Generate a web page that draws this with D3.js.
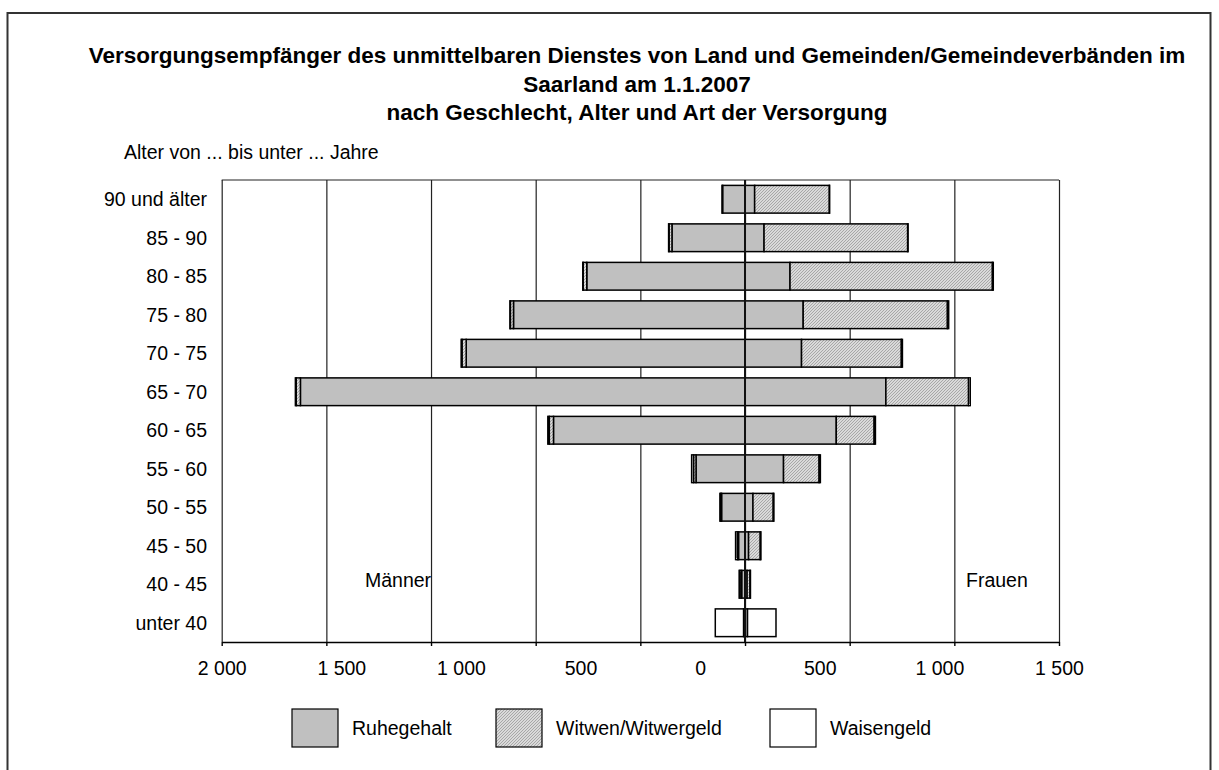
<!DOCTYPE html>
<html>
<head>
<meta charset="utf-8">
<script src="https://cdn.jsdelivr.net/npm/d3@7"></script>
<style>
  body { margin: 0; background: #fff; }
  svg { display: block; font-family: 'Liberation Sans', Arial, sans-serif; }
</style>
</head>
<body>
<svg id="chart" width="1219" height="770"></svg>
<script>
// Altersgruppen, von oben nach unten
const ageGroups = ['90 und älter', '85 - 90', '80 - 85', '75 - 80', '70 - 75', '65 - 70',
    '60 - 65', '55 - 60', '50 - 55', '45 - 50', '40 - 45', 'unter 40']

// Männer
const menRuhegehalt = [107, 349, 756, 1106, 1332, 2124, 915, 234, 112, 31, 16, 7]
const menWitwergeld = [3, 14, 17, 15, 20, 20, 20, 12, 4, 6, 8, 0]
const menWaisengeld = [0, 2, 2, 2, 4, 4, 7, 9, 4, 8, 4, 135]

// Frauen
const womenRuhegehalt = [46, 91, 215, 278, 270, 673, 436, 184, 38, 17, 10, 12]
const womenWitwengeld = [357, 686, 967, 689, 477, 395, 181, 170, 97, 56, 14, 0]
const womenWaisengeld = [1, 2, 4, 6, 5, 8, 6, 6, 3, 3, 2, 136]

const seriesNames = ['Ruhegehalt', 'Witwen/Witwergeld', 'Waisengeld']
const gridValues = [-2500, -2000, -1500, -1000, -500, 0, 500, 1000, 1500]
const tickLabelValues = [-2000, -1500, -1000, -500, 0, 500, 1000, 1500]

const titleLines = [
    'Versorgungsempfänger des unmittelbaren Dienstes von Land und Gemeinden/Gemeindeverbänden im',
    'Saarland am 1.1.2007',
    'nach Geschlecht, Alter und Art der Versorgung'
]

const svg = d3.select('#chart')
const plot = { left: 221.7, right: 1059, top: 180, bottom: 642 }
const fontSize = 19.5

// Schraffur
const defs = svg.append('defs')
const pat = defs.append('pattern')
    .attr('id', 'hatch')
    .attr('patternUnits', 'userSpaceOnUse')
    .attr('width', 3).attr('height', 3)
pat.append('rect').attr('width', 3).attr('height', 3).attr('fill', '#dadada')
pat.append('path')
    .attr('d', 'M-1,1 L1,-1 M0,3 L3,0 M2,4 L4,2')
    .attr('stroke', '#9a9a9a').attr('stroke-width', 0.8)

const fills = ['#c0c0c0', 'url(#hatch)', '#ffffff']

// Rahmen
svg.append('rect')
    .attr('x', 7.5).attr('y', 13)
    .attr('width', 1203).attr('height', 800)
    .attr('fill', 'none').attr('stroke', '#333').attr('stroke-width', 2)

// Titel
svg.append('g')
    .selectAll('text')
    .data(titleLines)
    .enter()
    .append('text')
    .attr('x', 637)
    .attr('y', (d, i) => 63 + i * 28.5)
    .attr('text-anchor', 'middle')
    .attr('font-weight', 'bold')
    .attr('font-size', 22.5)
    .text(d => d)

svg.append('text')
    .attr('x', 124).attr('y', 159)
    .attr('font-size', fontSize)
    .text('Alter von ... bis unter ... Jahre')

const x = d3.scaleLinear().domain([-2500, 1500]).range([plot.left, plot.right])
const xLabel = d3.scaleLinear().domain([-2000, 1500]).range([plot.left, plot.right])
const y = d3.scaleBand().domain(ageGroups).range([plot.top, plot.bottom])
    .paddingInner(0.28).paddingOuter(0.14)

// Gitternetz
const grid = svg.append('g')
    .attr('transform', `translate(0,${plot.bottom})`)
    .call(d3.axisBottom(x).tickValues(gridValues).tickSize(-(plot.bottom - plot.top)).tickFormat(''))
grid.select('.domain').remove()
grid.selectAll('line').attr('stroke', '#222').attr('stroke-width', 1.2)

svg.append('line')
    .attr('x1', plot.left).attr('x2', plot.right)
    .attr('y1', plot.top).attr('y2', plot.top)
    .attr('stroke', '#222').attr('stroke-width', 1.2)

// Achse unten
const axis = svg.append('g')
    .attr('transform', `translate(0,${plot.bottom})`)
    .call(d3.axisBottom(x).tickValues(gridValues).tickSize(4).tickSizeOuter(0).tickFormat(''))
axis.selectAll('line, path').attr('stroke', '#000').attr('stroke-width', 1.4)

const de = d3.formatLocale({ decimal: ',', thousands: '\u00a0', grouping: [3], currency: ['', ' €'] })
const fmt = de.format(',')

const labels = svg.append('g')
    .attr('transform', `translate(0,${plot.bottom})`)
    .call(d3.axisBottom(xLabel).tickValues(tickLabelValues).tickSize(0).tickPadding(19.5)
        .tickFormat(d => fmt(Math.abs(d))))
labels.select('.domain').remove()
labels.selectAll('text')
    .attr('font-size', fontSize)
    .attr('font-family', "'Liberation Sans', Arial, sans-serif")
    .attr('fill', '#000')

// Kategorien
svg.append('g')
    .selectAll('text')
    .data(ageGroups)
    .enter()
    .append('text')
    .attr('x', 207)
    .attr('y', d => y(d) + y.bandwidth() / 2 + 7)
    .attr('text-anchor', 'end')
    .attr('font-size', fontSize)
    .text(d => d)

// Segmente aufbauen
function stackSide (values, sign) {
    const segs = []
    ageGroups.forEach((age, i) => {
        let cum = 0
        values.forEach((arr, k) => {
            const v = arr[i]
            if (v > 0) {
                segs.push({ age, k, x0: sign * cum, x1: sign * (cum + v) })
            }
            cum += v
        })
    })
    return segs
}

const segments = stackSide([menRuhegehalt, menWitwergeld, menWaisengeld], -1)
    .concat(stackSide([womenRuhegehalt, womenWitwengeld, womenWaisengeld], 1))

svg.append('g')
    .selectAll('rect')
    .data(segments)
    .enter()
    .append('rect')
    .attr('x', d => Math.min(x(d.x0), x(d.x1)))
    .attr('y', d => y(d.age))
    .attr('width', d => Math.abs(x(d.x1) - x(d.x0)))
    .attr('height', y.bandwidth())
    .attr('fill', d => fills[d.k])
    .attr('stroke', '#000')
    .attr('stroke-width', 1.5)

// Nulllinie
svg.append('line')
    .attr('x1', x(0)).attr('x2', x(0))
    .attr('y1', plot.top).attr('y2', plot.bottom)
    .attr('stroke', '#111').attr('stroke-width', 2)

svg.append('text').attr('x', 365).attr('y', 587).attr('font-size', fontSize).text('Männer')
svg.append('text').attr('x', 966).attr('y', 587).attr('font-size', fontSize).text('Frauen')

// Legende
const legendX = [292, 496, 770]
const legend = svg.append('g')
    .selectAll('g')
    .data(seriesNames)
    .enter()
    .append('g')
    .attr('transform', (d, i) => `translate(${legendX[i]},709)`)
legend.append('rect')
    .attr('width', 46).attr('height', 38)
    .attr('fill', (d, i) => fills[i])
    .attr('stroke', '#000').attr('stroke-width', 1.2)
legend.append('text')
    .attr('x', 60).attr('y', 26)
    .attr('font-size', fontSize)
    .text(d => d)
</script>
</body>
</html>
